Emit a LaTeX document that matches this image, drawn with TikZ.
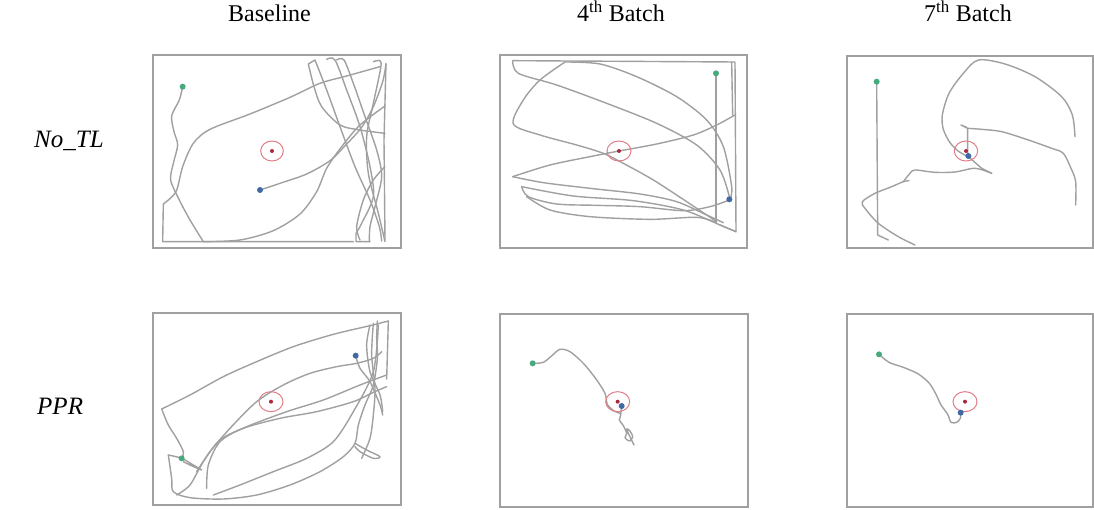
\documentclass[tikz,border=0pt]{standalone}
\usepackage{fontspec}
\setmainfont{Liberation Serif}
\definecolor{framegray}{RGB}{160,160,160}
\definecolor{trajgray}{RGB}{160,160,160}
\definecolor{startgreen}{RGB}{70,170,125}
\definecolor{endblue}{RGB}{65,105,165}
\definecolor{ringred}{RGB}{225,125,135}
\definecolor{goaldot}{RGB}{170,40,60}
\begin{document}
\begin{tikzpicture}[x=1pt,y=-1pt,
  frame/.style={draw=framegray, line width=1.8pt},
  traj/.style={draw=trajgray, line width=1.4pt, line join=round, line cap=round},
  goalring/.style={draw=ringred, line width=1pt},
  lab/.style={font=\fontsize{24}{28}\selectfont, inner sep=0pt},
  rowlab/.style={font=\fontsize{25}{29}\selectfont\itshape, inner sep=0pt},
  startpt/.style={fill=startgreen},
  endpt/.style={fill=endblue},
  goalpt/.style={fill=goaldot}]
\useasboundingbox (0,0) rectangle (1094,510);

% headers
\node[lab, anchor=base] (hbase) at (269.5,22) {Baseline};
\node[lab, anchor=base] (hfour) at (621,22) {4\textsuperscript{th} Batch};
\node[lab, anchor=base] (hseven) at (968,22) {7\textsuperscript{th} Batch};
% row labels
\node[rowlab, anchor=base west] (rnotl) at (34,148) {No\_TL};
\node[rowlab, anchor=base west] (rppr) at (37,414) {PPR};

% ---------- Panel 1: Baseline, No_TL
\begin{scope}[shift={(140,40)}, scale=0.33333]
\draw[frame] (40,45) rectangle (783,625);
\draw[traj] plot[smooth] coordinates {(128,140) (118,180) (95,228) (102,275) (113,315) (100,370) (92,420) (118,480) (150,540) (190,605)};
\draw[traj] plot[smooth] coordinates {(720,80) (620,108) (540,130) (450,172) (330,222) (210,268) (160,310) (128,380) (108,455) (70,492)} -- (68,605) -- (640,605);
\draw[traj] plot[smooth] coordinates {(360,450) (420,430) (500,402) (570,362) (620,312) (665,262) (700,200) (728,125) (738,72)};
\draw[traj] plot[smooth] coordinates {(190,605) (300,600) (400,572) (480,522) (530,455) (560,385) (605,320) (660,255) (735,198)};
\draw[traj] (505,72) -- (525,60) plot[smooth] coordinates {(525,60) (560,150) (600,260) (645,380) (690,480) (718,560) (725,603)};
\draw[traj] plot[smooth] coordinates {(505,72) (522,140) (545,200) (600,255) (660,270) (735,280)};
\draw[traj] plot[smooth] coordinates {(560,58) (585,60) (620,150) (660,260) (690,380) (700,470) (665,550) (648,580)} -- (648,605) -- (690,605);
\draw[traj] plot[smooth] coordinates {(590,60) (612,60) (640,130) (675,230) (710,330) (725,410) (705,500) (690,560) (688,605)};
\draw[traj] plot[smooth] coordinates {(700,65) (720,62) (722,85) (700,190) (680,290) (685,400) (715,520) (735,605)};
\draw[traj] (738,70) -- (732,300) -- (735,600);
\draw[traj] plot[smooth] coordinates {(735,380) (700,420) (670,480) (650,560) (660,600)};
\draw[goalring] (396,333) ellipse [x radius=34, y radius=30];
\fill[goalpt] (396,333) circle [radius=6];
\fill[startpt] (128,140) circle [radius=9];
\fill[endpt] (360,450) circle [radius=9];
\end{scope}

% ---------- Panel 2: 4th Batch, No_TL
\begin{scope}[shift={(490,40)}, scale=0.33333]
\draw[frame] (30,45) rectangle (770,625);
\draw[traj] (678,100) -- (678,548);
\draw[traj] (68,62) -- (735,66) -- (738,575) -- (690,555);
\draw[traj] (725,66) -- (728,225);
\draw[traj] plot[smooth] coordinates {(68,62) (85,100) (200,135) (350,190) (500,250) (620,315) (690,390) (718,470)};
\draw[traj] plot[smooth] coordinates {(225,66) (150,120) (100,180) (70,252) (150,285) (260,315) (340,340) (400,370) (490,420) (590,485) (680,545)};
\draw[traj] plot[smooth] coordinates {(225,66) (330,72) (440,110) (560,170) (650,240) (700,320) (725,440) (720,478)};
\draw[traj] plot[smooth] coordinates {(68,410) (180,375) (300,350) (387,333) (500,312) (610,285) (680,255) (735,225)};
\draw[traj] plot[smooth] coordinates {(68,410) (160,428) (300,445) (450,462) (560,485) (650,525) (700,548)};
\draw[traj] plot[smooth] coordinates {(95,440) (115,470) (200,492) (320,496) (450,500) (580,512) (660,500) (718,480)};
\draw[traj] plot[smooth] coordinates {(95,440) (250,468) (430,482) (580,510) (690,555) (738,575)};
\draw[traj] plot[smooth] coordinates {(110,470) (180,510) (300,530) (480,538) (620,532) (680,548)};
\draw[goalring] (387,333) ellipse [x radius=36, y radius=30];
\fill[goalpt] (387,333) circle [radius=6];
\fill[startpt] (678,100) circle [radius=9];
\fill[endpt] (718,478) circle [radius=9];
\end{scope}

% ---------- Panel 3: 7th Batch, No_TL
\begin{scope}[shift={(835,40)}, scale=0.33333]
\draw[frame] (35,47) rectangle (774,625);
\draw[traj] (125,125) -- (128,585) -- (160,600);
\draw[traj] plot[smooth] coordinates {(240,615) (190,590) (130,550) (90,505) (82,485) (120,460) (170,440) (205,425) (222,422)};
\draw[traj] plot[smooth] coordinates {(205,425) (225,400) (240,390) (300,397) (360,396) (420,385) (470,400)};
\draw[traj] (470,400) -- (440,385) -- (400,350);
\draw[traj] plot[smooth] coordinates {(400,350) (372,335) (345,308) (325,268) (322,225) (342,160) (385,100) (430,60) (510,72) (600,110) (680,170) (712,225) (720,290)};
\draw[traj] (398,340) -- (398,265) -- (378,255) -- (395,262);
\draw[traj] plot[smooth] coordinates {(398,265) (440,268) (500,275) (580,300) (650,325) (685,340) (708,385) (722,425) (722,495)};
\draw[goalring] (393,333) ellipse [x radius=35, y radius=30];
\fill[goalpt] (393,333) circle [radius=6];
\fill[startpt] (125,125) circle [radius=9];
\fill[endpt] (400,348) circle [radius=9];
\end{scope}

% ---------- Panel 4: Baseline, PPR
\begin{scope}[shift={(140,305)}, scale=0.33333]
\draw[frame] (40,25) rectangle (783,600);
\draw[traj] plot[smooth] coordinates {(65,312) (150,270) (250,215) (350,170) (460,125) (580,88) (690,62) (745,48)} -- (740,222);
\draw[traj] plot[smooth] coordinates {(65,312) (85,360) (110,400) (130,440) (125,460)};
\draw[traj] plot[smooth] coordinates {(85,450) (125,460) (160,480) (185,495) (150,480) (130,470)};
\draw[traj] plot[smooth] coordinates {(85,450) (95,520) (100,560) (150,578) (250,582) (350,570) (450,540) (540,500) (610,455) (645,415) (655,360) (675,300) (700,240) (712,160) (710,100) (712,48)};
\draw[traj] plot[smooth] coordinates {(170,500) (210,440) (270,370) (350,290) (430,240) (510,205) (590,185) (650,175) (700,160) (725,140)};
\draw[traj] plot[smooth] coordinates {(200,550) (205,480) (240,410) (310,370) (420,340) (530,320) (640,290) (700,262) (740,245)};
\draw[traj] plot[smooth] coordinates {(110,570) (150,540) (190,470) (240,405) (320,365) (440,320) (550,285) (660,240) (740,210)};
\draw[traj] plot[smooth] coordinates {(645,415) (680,435) (720,455) (700,460) (660,440) (645,425)};
\draw[traj] plot[smooth] coordinates {(690,60) (680,120) (690,200) (720,270) (728,320)};
\draw[traj] plot[smooth] coordinates {(700,55) (695,150) (705,250) (700,330) (690,400) (665,460)};
\draw[traj] plot[smooth] coordinates {(220,570) (300,540) (400,500) (500,460) (580,410) (640,320) (700,200) (715,60)};
\draw[traj] plot[smooth] coordinates {(647,152) (660,190) (690,230) (720,300) (728,330)};
\draw[goalring] (393,290) ellipse [x radius=36, y radius=30];
\fill[goalpt] (393,290) circle [radius=6];
\fill[startpt] (125,460) circle [radius=9];
\fill[endpt] (647,152) circle [radius=9];
\end{scope}

% ---------- Panel 5: 4th Batch, PPR
\begin{scope}[shift={(490,305)}, scale=0.33333]
\draw[frame] (30,28) rectangle (775,605);
\draw[traj] plot[smooth] coordinates {(128,175) (160,172) (188,150) (210,133) (240,140) (280,175) (318,222) (345,265) (352,298) (372,318) (392,327) (388,345) (400,362) (410,385) (405,398) (418,408) (428,396) (420,378) (410,372) (422,400) (432,420)};
\draw[traj] (392,327) -- (395,303);
\draw[goalring] (383,290) ellipse [x radius=36, y radius=30];
\fill[goalpt] (383,290) circle [radius=6];
\fill[startpt] (128,175) circle [radius=9];
\fill[endpt] (395,303) circle [radius=9];
\end{scope}

% ---------- Panel 6: 7th Batch, PPR
\begin{scope}[shift={(835,305)}, scale=0.33333]
\draw[frame] (37,28) rectangle (774,607);
\draw[traj] plot[smooth] coordinates {(132,148) (162,172) (205,187) (250,207) (283,235) (303,268) (318,300) (338,328) (348,352) (365,352) (376,340) (377,323)};
\draw[goalring] (390,290) ellipse [x radius=36, y radius=30];
\fill[goalpt] (390,290) circle [radius=6];
\fill[startpt] (132,148) circle [radius=9];
\fill[endpt] (377,323) circle [radius=9];
\end{scope}
\end{tikzpicture}
\end{document}
